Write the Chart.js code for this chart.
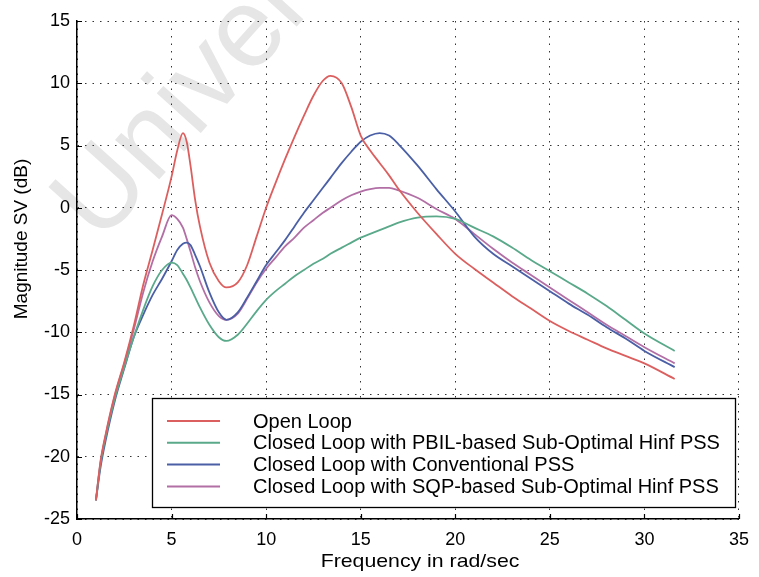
<!DOCTYPE html>
<html>
<head>
<meta charset="utf-8">
<script src="https://cdn.jsdelivr.net/npm/chart.js@4.4.1/dist/chart.umd.min.js"></script>
<style>
  body { margin: 0; background: #fff; }
  #wrap { width: 759px; height: 577px; }
</style>
</head>
<body>
<div id="wrap"><canvas id="svChart" width="759" height="577"></canvas></div>
<script>
// frequency points (rad/sec) shared by all curves
const freq = [1, 1.25, 1.5, 2, 2.5, 3, 3.5, 4, 4.5, 5, 5.3, 5.6, 5.8, 6, 6.25, 6.5, 7, 7.5, 7.9, 8.5,
    9, 9.5, 10, 10.5, 11, 11.5, 12, 12.5, 13, 13.4, 14, 14.5, 15, 15.5, 16, 16.5, 17, 18, 19, 20, 21,
    22, 23, 24, 25, 26, 27, 28, 29, 30, 31.6];

const openLoop = [-23.5, -20.3, -18.3, -15.0, -12.4, -9.5, -6.2, -3.4, -0.5, 2.5, 4.6, 6.0, 5.3, 3.4, 0.6, -1.5, -4.4, -5.9, -6.4, -6.0,
    -4.6, -2.3, 0.0, 2.0, 3.9, 5.7, 7.4, 9.0, 10.2, 10.6, 10.0, 8.1, 5.8, 4.6, 3.6, 2.6, 1.5, -0.4, -2.1, -3.7, -4.9,
    -6.0, -7.1, -8.1, -9.1, -9.9, -10.6, -11.3, -11.9, -12.5, -13.75];

const pbilPss = [-23.5, -20.5, -18.5, -15.3, -12.8, -10.4, -8.2, -6.3, -5.0, -4.4, -4.6, -5.3, -5.8, -6.4, -7.2, -8.0, -9.4, -10.4, -10.7, -10.2,
    -9.3, -8.3, -7.4, -6.7, -6.1, -5.5, -5.0, -4.5, -4.1, -3.7, -3.2, -2.8, -2.4, -2.1, -1.8, -1.5, -1.2, -0.8, -0.7, -0.9, -1.6,
    -2.3, -3.2, -4.2, -5.1, -6.0, -6.9, -7.9, -9.0, -10.1, -11.5];

const conventionalPss = [-23.5, -20.8, -18.8, -15.5, -12.9, -10.4, -8.6, -7.0, -5.7, -4.3, -3.4, -2.9, -2.8, -3.0, -3.8, -4.7, -6.8, -8.4, -9.0, -8.4,
    -7.2, -5.9, -4.6, -3.6, -2.6, -1.5, -0.4, 0.6, 1.6, 2.4, 3.6, 4.5, 5.3, 5.8, 6.0, 5.8, 5.1, 3.4, 1.5, -0.3, -2.3,
    -3.7, -4.7, -5.7, -6.7, -7.7, -8.6, -9.6, -10.5, -11.5, -12.8];

const sqpPss = [-23.5, -20.4, -18.4, -15.1, -12.5, -9.8, -6.8, -4.3, -2.3, -0.6, -0.9, -1.6, -2.5, -3.5, -4.8, -5.9, -7.6, -8.7, -9.0, -8.5,
    -7.3, -6.0, -4.9, -4.0, -3.1, -2.4, -1.6, -1.0, -0.4, 0.0, 0.6, 1.0, 1.3, 1.5, 1.6, 1.6, 1.4, 0.8, -0.1, -0.9, -2.1,
    -3.3, -4.4, -5.4, -6.4, -7.4, -8.4, -9.4, -10.3, -11.2, -12.5];

const seriesLabels = [
    'Open Loop',
    'Closed Loop with PBIL-based Sub-Optimal Hinf PSS',
    'Closed Loop with Conventional PSS',
    'Closed Loop with SQP-based Sub-Optimal Hinf PSS'
];
const seriesColors = ['#dc5f5f', '#5aa98a', '#4a5fa6', '#b26fa6'];
const seriesValues = [openLoop, pbilPss, conventionalPss, sqpPss];

const xTicks = [0, 5, 10, 15, 20, 25, 30, 35];
const yTicks = [-25, -20, -15, -10, -5, 0, 5, 10, 15];

const FONT = '"Liberation Sans", Arial, sans-serif';

// watermark, inward tick marks, axis titles and the boxed legend
const overlay = {
    id: 'overlay',
    beforeDraw(chart) {
        const ctx = chart.ctx;
        ctx.save();
        ctx.fillStyle = '#fff';
        ctx.fillRect(0, 0, chart.width, chart.height);
        ctx.translate(100, 245);
        ctx.rotate(-48 * Math.PI / 180);
        ctx.font = '112px ' + FONT;
        ctx.fillStyle = '#e6e6e6';
        ctx.textBaseline = 'alphabetic';
        ctx.fillText('University', 0, 0);
        ctx.restore();
    },
    afterDraw(chart) {
        const ctx = chart.ctx;
        const xs = chart.scales.x;
        const ys = chart.scales.y;
        const area = chart.chartArea;
        ctx.save();

        // small ticks pointing into the plot
        ctx.strokeStyle = '#000';
        ctx.lineWidth = 1.2;
        ctx.beginPath();
        xTicks.forEach(v => {
            const px = Math.round(xs.getPixelForValue(v)) + 0.5;
            ctx.moveTo(px, area.bottom);
            ctx.lineTo(px, area.bottom - 5);
        });
        yTicks.forEach(v => {
            const py = Math.round(ys.getPixelForValue(v)) + 0.5;
            ctx.moveTo(area.left, py);
            ctx.lineTo(area.left + 5, py);
        });
        ctx.stroke();

        // axis titles
        ctx.fillStyle = '#000';
        ctx.textAlign = 'center';
        ctx.textBaseline = 'middle';
        ctx.save();
        ctx.translate(420, 562);
        ctx.scale(1.12, 1);
        ctx.font = '19px ' + FONT;
        ctx.fillText('Frequency in rad/sec', 0, 0);
        ctx.restore();
        ctx.save();
        ctx.translate(22, 239);
        ctx.rotate(-Math.PI / 2);
        ctx.font = '19px ' + FONT;
        ctx.fillText('Magnitude SV (dB)', 0, 0);
        ctx.restore();

        // legend box
        const box = { left: 152, top: 398, right: 735, bottom: 507 };
        ctx.fillStyle = '#fff';
        ctx.fillRect(box.left, box.top, box.right - box.left, box.bottom - box.top);
        ctx.strokeStyle = '#000';
        ctx.lineWidth = 1.3;
        ctx.strokeRect(box.left + 0.5, box.top + 0.5, box.right - box.left, box.bottom - box.top);
        ctx.font = '20px ' + FONT;
        ctx.textAlign = 'left';
        ctx.textBaseline = 'middle';
        chart.data.datasets.forEach((ds, i) => {
            const y = 421 + i * 21.8;
            ctx.strokeStyle = ds.borderColor;
            ctx.lineWidth = 2;
            ctx.beginPath();
            ctx.moveTo(167, y);
            ctx.lineTo(220, y);
            ctx.stroke();
            ctx.fillStyle = '#000';
            ctx.fillText(ds.label, 253, y + 1);
        });
        ctx.restore();
    }
};

const datasets = seriesValues.map((vals, i) => ({
    label: seriesLabels[i],
    data: freq.map((f, k) => ({ x: f, y: vals[k] })),
    borderColor: seriesColors[i],
    backgroundColor: seriesColors[i],
    borderWidth: 1.8,
    pointRadius: 0,
    fill: false,
    cubicInterpolationMode: 'monotone'
}));

const axisCommon = {
    grid: { color: '#333', lineWidth: 1, drawTicks: false },
    border: { display: true, color: '#000', width: 1.5, dash: [1.5, 6] }
};

new Chart(document.getElementById('svChart'), {
    type: 'line',
    data: { datasets },
    options: {
        responsive: false,
        animation: false,
        layout: { padding: { top: 21, right: 15, left: 0, bottom: 0 } },
        plugins: {
            legend: { display: false },
            tooltip: { enabled: false }
        },
        scales: {
            x: {
                type: 'linear',
                min: 0,
                max: 35,
                ...axisCommon,
                afterBuildTicks: s => { s.ticks = xTicks.map(v => ({ value: v })); },
                afterFit: s => { s.height = 58; },
                ticks: { color: '#000', padding: 10, font: { size: 18, family: FONT } }
            },
            y: {
                type: 'linear',
                min: -25,
                max: 15,
                ...axisCommon,
                afterBuildTicks: s => { s.ticks = yTicks.map(v => ({ value: v })); },
                afterFit: s => { s.width = 77; },
                ticks: { color: '#000', padding: 7, font: { size: 18, family: FONT } }
            }
        }
    },
    plugins: [overlay]
});
</script>
</body>
</html>
